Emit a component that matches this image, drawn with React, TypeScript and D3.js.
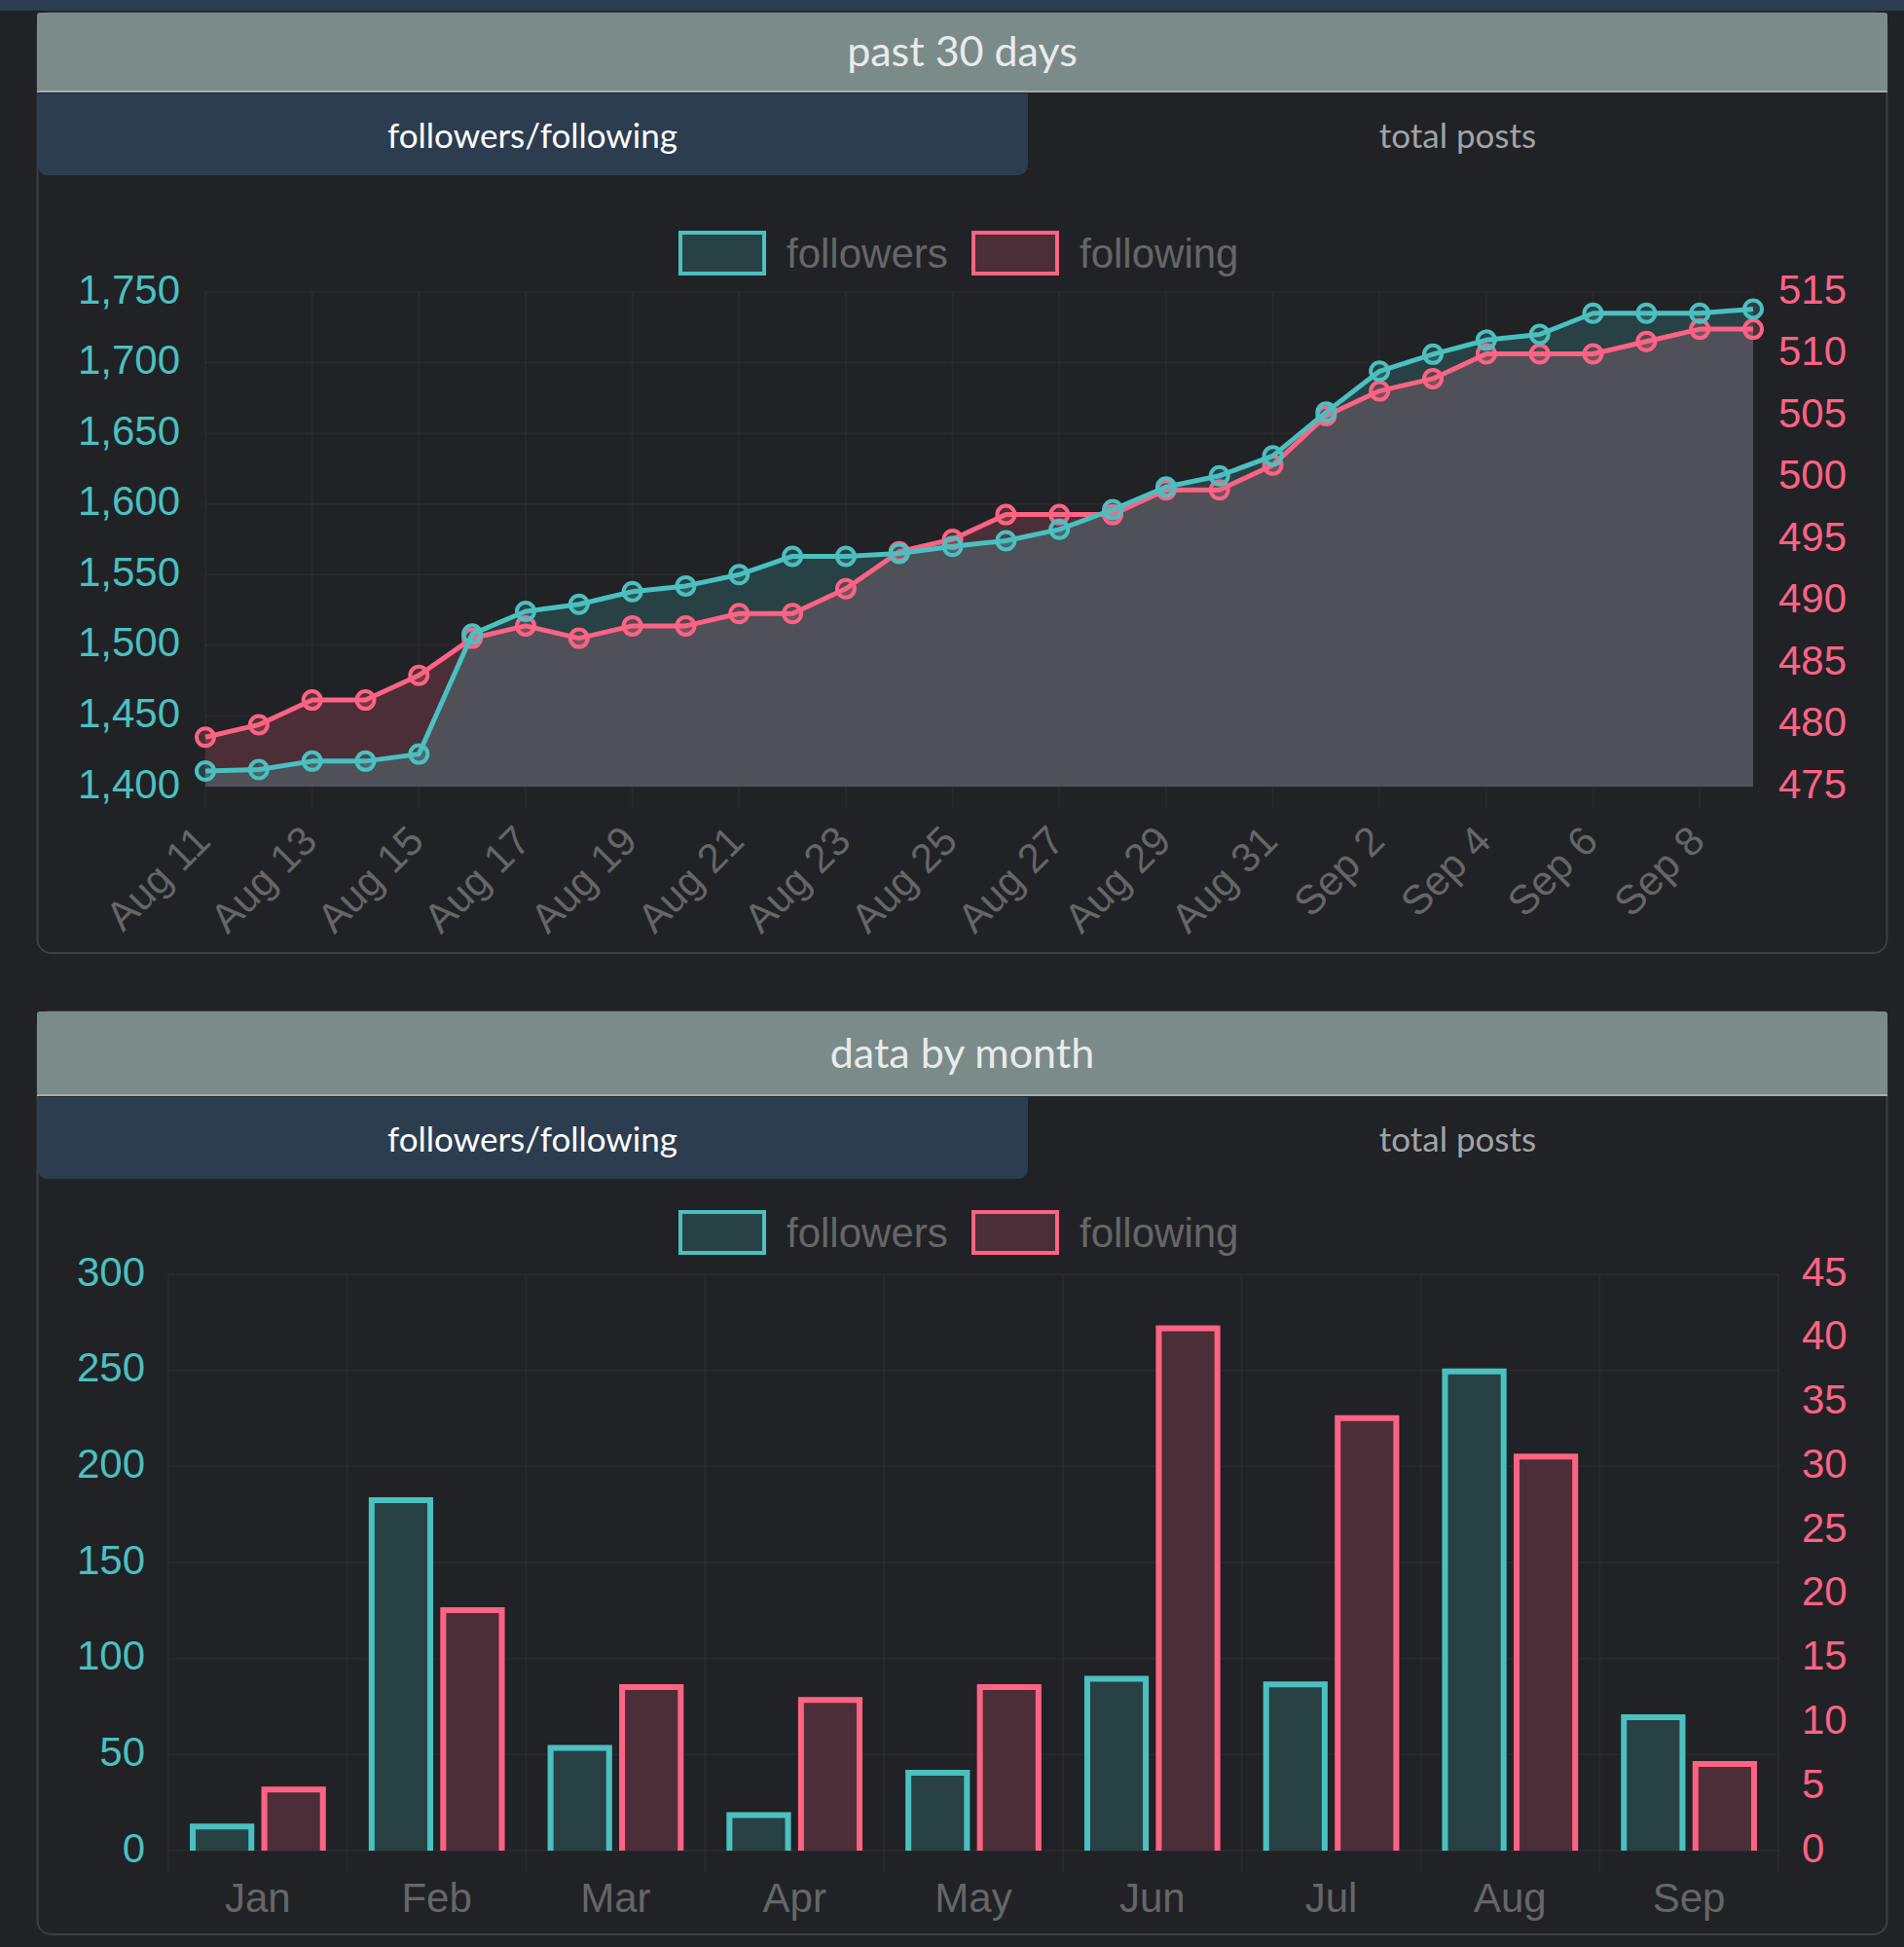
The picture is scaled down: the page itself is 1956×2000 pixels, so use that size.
import React from 'react';
import * as d3 from 'd3';

// ---------- data ----------
const dayLabels = [
  'Aug 11', 'Aug 12', 'Aug 13', 'Aug 14', 'Aug 15', 'Aug 16', 'Aug 17', 'Aug 18', 'Aug 19', 'Aug 20',
  'Aug 21', 'Aug 22', 'Aug 23', 'Aug 24', 'Aug 25', 'Aug 26', 'Aug 27', 'Aug 28', 'Aug 29', 'Aug 30',
  'Aug 31', 'Sep 1', 'Sep 2', 'Sep 3', 'Sep 4', 'Sep 5', 'Sep 6', 'Sep 7', 'Sep 8', 'Sep 9',
];
const followersDaily = [
  1411, 1412, 1418, 1418, 1423, 1508, 1524, 1529, 1538, 1542,
  1550, 1563, 1563, 1565, 1570, 1574, 1582, 1596, 1612, 1620,
  1634, 1665, 1694, 1706, 1716, 1720, 1735, 1735, 1735, 1738,
];
const followingDaily = [
  479, 480, 482, 482, 484, 487, 488, 487, 488, 488,
  489, 489, 491, 494, 495, 497, 497, 497, 499, 499,
  501, 505, 507, 508, 510, 510, 510, 511, 512, 512,
];
const dailyLeftTicks = [1400, 1450, 1500, 1550, 1600, 1650, 1700, 1750];
const dailyRightTicks = [475, 480, 485, 490, 495, 500, 505, 510, 515];

const months = ['Jan', 'Feb', 'Mar', 'Apr', 'May', 'Jun', 'Jul', 'Aug', 'Sep'];
const followersMonthly = [14, 184, 55, 20, 42, 91, 88, 251, 71];
const followingMonthly = [5, 19, 13, 12, 13, 41, 34, 31, 7];
const monthlyLeftTicks = [0, 50, 100, 150, 200, 250, 300];
const monthlyRightTicks = [0, 5, 10, 15, 20, 25, 30, 35, 40, 45];

const seriesNames = ['followers', 'following'];

// ---------- styles ----------
const BG = '#202226';
const TEAL = '#4bc0c0';
const PINK = '#ff6384';
const TEAL_FILL2 = '#284144';
const PINK_FILL = '#4b2e38';
const GRAY_FILL = '#4f5058';
const GRID = 'rgba(255,255,255,0.035)';
const TICK_GRAY = '#666666';
const CHART_FONT = "'Liberation Sans', Arial, Helvetica, sans-serif";
const UI_FONT = "Lato, 'Open Sans', sans-serif";

function Panel({ top, headerH, bottom, title }: { top: number; headerH: number; bottom: number; title: string }) {
  const x0 = 38, x1 = 1939;
  const hb = top + headerH;
  const tabTop = hb + 2, tabBot = tabTop + 84, tabRight = 1056, r = 12;
  const tabPath = `M${x0},${tabTop} L${tabRight},${tabTop} L${tabRight},${tabBot - r} Q${tabRight},${tabBot} ${tabRight - r},${tabBot} L${x0 + r},${tabBot} Q${x0},${tabBot} ${x0},${tabBot - r} Z`;
  return (
    <g>
      <rect x={x0 + 0.5} y={top} width={x1 - x0 - 1} height={bottom - top} rx={14} fill="none" stroke="#3c3f44" strokeWidth={2} />
      <rect x={x0} y={top} width={x1 - x0} height={hb - top} rx={3} fill="#7b8b89" />
      <line x1={x0} x2={x1} y1={hb} y2={hb} stroke="#a3adab" strokeWidth={2} />
      <text x={(x0 + x1) / 2} y={(top + hb) / 2 - 2} textAnchor="middle" dominantBaseline="central" fill="#e8ebea" fontFamily={UI_FONT} fontSize={43}>{title}</text>
      <path d={tabPath} fill="#2c3d50" />
      <text x={(x0 + tabRight) / 2} y={(tabTop + tabBot) / 2} textAnchor="middle" dominantBaseline="central" fill="#ffffff" fontFamily={UI_FONT} fontSize={35}>followers/following</text>
      <text x={(tabRight + x1) / 2} y={(tabTop + tabBot) / 2} textAnchor="middle" dominantBaseline="central" fill="#a2a4a6" fontFamily={UI_FONT} fontSize={35}>total posts</text>
    </g>
  );
}

function Legend({ cy }: { cy: number }) {
  const items = [
    { name: seriesNames[0], stroke: TEAL, fill: TEAL_FILL2, x: 697, tx: 808 },
    { name: seriesNames[1], stroke: PINK, fill: PINK_FILL, x: 998, tx: 1109 },
  ];
  return (
    <g>
      {items.map((it) => (
        <g key={it.name}>
          <rect x={it.x + 2} y={cy - 21} width={86} height={42} fill={it.fill} stroke={it.stroke} strokeWidth={4} />
          <text x={it.tx} y={cy} dominantBaseline="central" fill={TICK_GRAY} fontFamily={CHART_FONT} fontSize={42}>{it.name}</text>
        </g>
      ))}
    </g>
  );
}

function DailyChart() {
  const left = 211, right = 1801, top = 300, bottom = 808;
  const x = d3.scalePoint<string>().domain(dayLabels).range([left, right]);
  const yL = d3.scaleLinear().domain([1400, 1750]).range([bottom, top]);
  const yR = d3.scaleLinear().domain([475, 515]).range([bottom, top]);
  const idx = d3.range(dayLabels.length);
  const fx = (i: number) => x(dayLabels[i]) as number;

  const areaF = d3.area<number>().x(fx).y0(bottom).y1((i) => yL(followersDaily[i]))(idx) as string;
  const areaG = d3.area<number>().x(fx).y0(bottom).y1((i) => yR(followingDaily[i]))(idx) as string;
  const aboveF = d3.area<number>().x(fx).y0(0).y1((i) => yL(followersDaily[i]))(idx) as string;
  const aboveG = d3.area<number>().x(fx).y0(0).y1((i) => yR(followingDaily[i]))(idx) as string;
  const lineF = d3.line<number>().x(fx).y((i) => yL(followersDaily[i]))(idx) as string;
  const lineG = d3.line<number>().x(fx).y((i) => yR(followingDaily[i]))(idx) as string;

  const shownTicks = dayLabels.filter((_, i) => i % 2 === 0);

  return (
    <g>
      <defs>
        <clipPath id="clipAboveG"><path d={aboveG} /></clipPath>
        <clipPath id="clipAboveF"><path d={aboveF} /></clipPath>
        <clipPath id="clipBelowG"><path d={areaG} /></clipPath>
      </defs>
      {dailyLeftTicks.map((t) => (
        <line key={t} x1={left} x2={right} y1={yL(t)} y2={yL(t)} stroke={GRID} strokeWidth={2} />
      ))}
      {shownTicks.map((d) => (
        <line key={d} x1={x(d)} x2={x(d)} y1={top} y2={bottom + 22} stroke={GRID} strokeWidth={2} />
      ))}
      <path d={areaF} fill={TEAL_FILL2} clipPath="url(#clipAboveG)" />
      <path d={areaG} fill={PINK_FILL} clipPath="url(#clipAboveF)" />
      <path d={areaF} fill={GRAY_FILL} clipPath="url(#clipBelowG)" />
      <path d={lineG} fill="none" stroke={PINK} strokeWidth={5} strokeLinejoin="round" />
      {idx.map((i) => (
        <circle key={'g' + i} cx={fx(i)} cy={yR(followingDaily[i])} r={9} fill="rgba(255,99,132,0.2)" stroke={PINK} strokeWidth={4} />
      ))}
      <path d={lineF} fill="none" stroke={TEAL} strokeWidth={5} strokeLinejoin="round" />
      {idx.map((i) => (
        <circle key={'f' + i} cx={fx(i)} cy={yL(followersDaily[i])} r={9} fill="rgba(75,192,192,0.2)" stroke={TEAL} strokeWidth={4} />
      ))}
      {dailyLeftTicks.map((t) => (
        <text key={t} x={185} y={yL(t) - 3} textAnchor="end" dominantBaseline="central" fill={TEAL} fontFamily={CHART_FONT} fontSize={42}>{d3.format(',')(t)}</text>
      ))}
      {dailyRightTicks.map((t) => (
        <text key={t} x={1827} y={yR(t) - 3} textAnchor="start" dominantBaseline="central" fill={PINK} fontFamily={CHART_FONT} fontSize={42}>{t}</text>
      ))}
      {shownTicks.map((d) => (
        <text key={d} transform={`translate(${(x(d) as number) - 3},${856}) rotate(-45)`} textAnchor="end" dominantBaseline="central" fill={TICK_GRAY} fontFamily={CHART_FONT} fontSize={42}>{d}</text>
      ))}
    </g>
  );
}

function MonthlyChart() {
  const left = 173, right = 1827, top = 1309, bottom = 1901;
  const x = d3.scaleBand<string>().domain(months).range([left, right]);
  const bw = x.bandwidth();
  const inner = d3.scaleBand<string>().domain(seriesNames).range([bw * 0.1, bw * 0.9]).paddingInner(0.1).paddingOuter(0.05);
  const yL = d3.scaleLinear().domain([0, 300]).range([bottom, top]);
  const yR = d3.scaleLinear().domain([0, 45]).range([bottom, top]);
  const b = 6;

  const barPath = (x0: number, w: number, yTop: number) =>
    `M${x0 + b / 2},${bottom} L${x0 + b / 2},${yTop + b / 2} L${x0 + w - b / 2},${yTop + b / 2} L${x0 + w - b / 2},${bottom}`;

  return (
    <g>
      {monthlyLeftTicks.map((t) => (
        <line key={t} x1={left} x2={right} y1={yL(t)} y2={yL(t)} stroke={GRID} strokeWidth={2} />
      ))}
      {months.map((m) => (
        <line key={m} x1={x(m)} x2={x(m)} y1={top} y2={bottom + 22} stroke={GRID} strokeWidth={2} />
      ))}
      <line x1={right} x2={right} y1={top} y2={bottom + 22} stroke={GRID} strokeWidth={2} />
      {months.map((m, i) => {
        const x0 = (x(m) as number) + (inner('followers') as number);
        const x1 = (x(m) as number) + (inner('following') as number);
        const w = inner.bandwidth();
        const yf = yL(followersMonthly[i]);
        const yg = yR(followingMonthly[i]);
        return (
          <g key={m}>
            <rect x={x0} y={yf} width={w} height={bottom - yf} fill={TEAL_FILL2} />
            <path d={barPath(x0, w, yf)} fill="none" stroke={TEAL} strokeWidth={b} />
            <rect x={x1} y={yg} width={w} height={bottom - yg} fill={PINK_FILL} />
            <path d={barPath(x1, w, yg)} fill="none" stroke={PINK} strokeWidth={b} />
          </g>
        );
      })}
      {monthlyLeftTicks.map((t) => (
        <text key={t} x={149} y={yL(t) - 3} textAnchor="end" dominantBaseline="central" fill={TEAL} fontFamily={CHART_FONT} fontSize={42}>{t}</text>
      ))}
      {monthlyRightTicks.map((t) => (
        <text key={t} x={1851} y={yR(t) - 3} textAnchor="start" dominantBaseline="central" fill={PINK} fontFamily={CHART_FONT} fontSize={42}>{t}</text>
      ))}
      {months.map((m) => (
        <text key={m} x={(x(m) as number) + bw / 2} y={1949} textAnchor="middle" dominantBaseline="central" fill={TICK_GRAY} fontFamily={CHART_FONT} fontSize={42}>{m}</text>
      ))}
    </g>
  );
}

export default function App() {
  return (
    <svg width={1956} height={2000} style={{ position: 'absolute', left: 0, top: 0, display: 'block' }} xmlns="http://www.w3.org/2000/svg">
      <rect x={0} y={0} width={1956} height={2000} fill={BG} />
      <rect x={0} y={0} width={1956} height={11} fill="#2c3d50" />
      <Panel top={13} headerH={81} bottom={979} title="past 30 days" />
      <Legend cy={260} />
      <DailyChart />
      <Panel top={1039} headerH={86} bottom={1987} title="data by month" />
      <Legend cy={1266} />
      <MonthlyChart />
    </svg>
  );
}
